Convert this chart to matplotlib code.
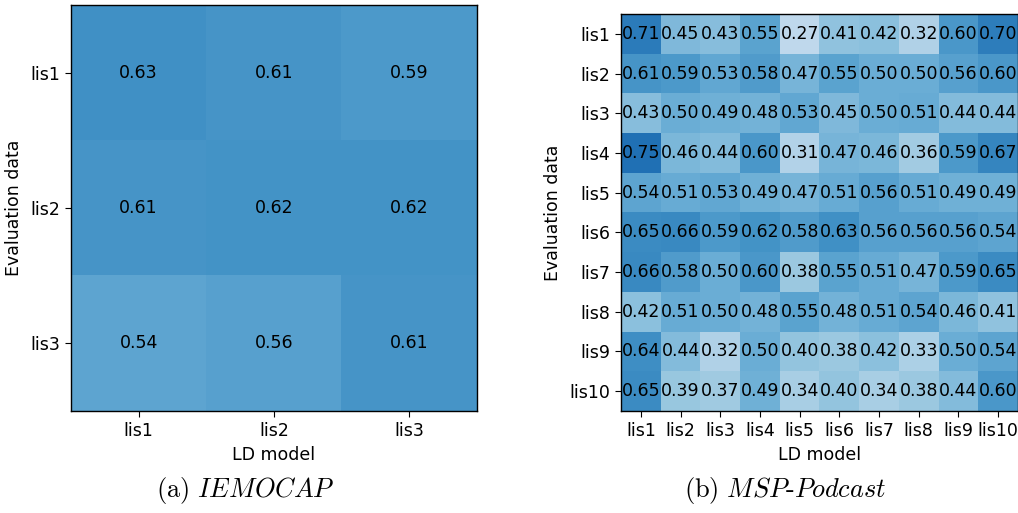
import numpy as np
import matplotlib
matplotlib.use('Agg')
import matplotlib.pyplot as plt

# IEMOCAP (3x3) and MSP-Podcast (10x10) scores, rows = evaluation data, cols = LD model
iemocap_labels = ['lis1', 'lis2', 'lis3']
iemocap_vals = [
    [0.63, 0.61, 0.59],
    [0.61, 0.62, 0.62],
    [0.54, 0.56, 0.61],
]

msp_labels = ['lis%d' % i for i in range(1, 11)]
msp_vals = [
    [0.71, 0.45, 0.43, 0.55, 0.27, 0.41, 0.42, 0.32, 0.60, 0.70],
    [0.61, 0.59, 0.53, 0.58, 0.47, 0.55, 0.50, 0.50, 0.56, 0.60],
    [0.43, 0.50, 0.49, 0.48, 0.53, 0.45, 0.50, 0.51, 0.44, 0.44],
    [0.75, 0.46, 0.44, 0.60, 0.31, 0.47, 0.46, 0.36, 0.59, 0.67],
    [0.54, 0.51, 0.53, 0.49, 0.47, 0.51, 0.56, 0.51, 0.49, 0.49],
    [0.65, 0.66, 0.59, 0.62, 0.58, 0.63, 0.56, 0.56, 0.56, 0.54],
    [0.66, 0.58, 0.50, 0.60, 0.38, 0.55, 0.51, 0.47, 0.59, 0.65],
    [0.42, 0.51, 0.50, 0.48, 0.55, 0.48, 0.51, 0.54, 0.46, 0.41],
    [0.64, 0.44, 0.32, 0.50, 0.40, 0.38, 0.42, 0.33, 0.50, 0.54],
    [0.65, 0.39, 0.37, 0.49, 0.34, 0.40, 0.34, 0.38, 0.44, 0.60],
]

plt.rcParams['mathtext.fontset'] = 'cm'
plt.rcParams['font.size'] = 12.5
plt.rcParams['xtick.major.size'] = 4.4
plt.rcParams['ytick.major.size'] = 4.4
plt.rcParams['axes.linewidth'] = 1.0

W, H = 1018, 513
fig = plt.figure(figsize=(W / 100, H / 100), dpi=100)


def heatmap(ax, vals, labels):
    vals = np.array(vals)
    ax.imshow(vals, cmap='Blues', vmin=0, vmax=1, aspect='auto')
    for i in range(vals.shape[0]):
        for j in range(vals.shape[1]):
            ax.text(j, i, '%.2f' % vals[i, j], ha='center', va='center',
                    color='black', fontsize=12.5)
    ax.set_xticks(range(len(labels)))
    ax.set_xticklabels(labels)
    ax.set_yticks(range(len(labels)))
    ax.set_yticklabels(labels)
    ax.set_xlabel('LD model', labelpad=4)
    ax.set_ylabel('Evaluation data', labelpad=5)


ax1 = fig.add_axes([71 / W, 102 / H, 406 / W, 406 / H])
heatmap(ax1, iemocap_vals, iemocap_labels)

ax2 = fig.add_axes([621 / W, 102 / H, 397 / W, 397 / H])
heatmap(ax2, msp_vals, msp_labels)

fig.text(245 / W, 22 / H, r'$\mathrm{(a)}\ \mathit{IEMOCAP}$', ha='center',
         va='center', fontsize=19)
fig.text(785 / W, 22 / H, r'$\mathrm{(b)}\ \mathit{MSP}\text{-}\mathit{Podcast}$',
         ha='center', va='center', fontsize=19)

fig.savefig('out.png', dpi=100)
